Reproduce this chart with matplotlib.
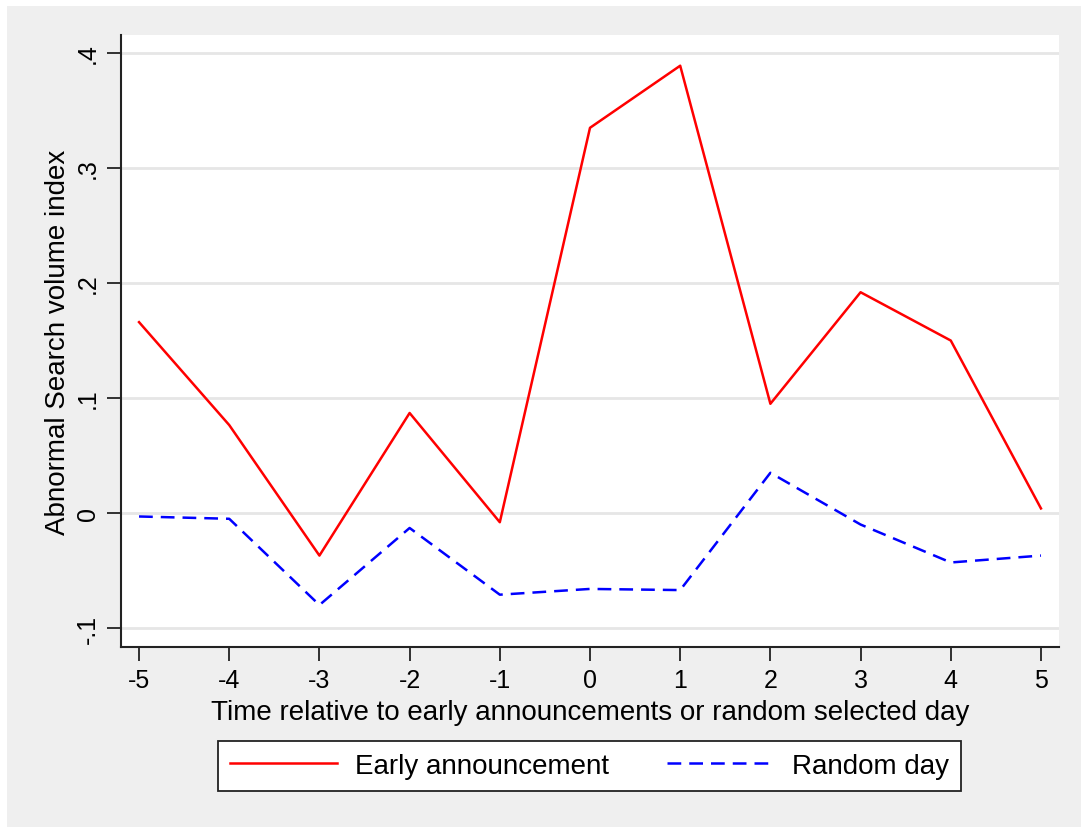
import matplotlib
matplotlib.use("Agg")
import matplotlib.pyplot as plt
from matplotlib.patches import Rectangle
from matplotlib.lines import Line2D

plt.rcParams['font.family'] = ['Liberation Sans', 'DejaVu Sans']

days = [-5, -4, -3, -2, -1, 0, 1, 2, 3, 4, 5]
early = [0.166, 0.0765, -0.037, 0.087, -0.008, 0.335, 0.389, 0.095, 0.192, 0.150, 0.004]
random_day = [-0.003, -0.005, -0.080, -0.013, -0.071, -0.066, -0.067, 0.035, -0.010, -0.043, -0.037]
yticks = [-0.1, 0, 0.1, 0.2, 0.3, 0.4]
ytick_labels = ['-.1', '0', '.1', '.2', '.3', '.4']

W, H = 1081, 828
fig = plt.figure(figsize=(W / 100, H / 100), dpi=100)
fig.patch.set_facecolor('#efefef')
fig.patches.append(Rectangle((0, 0), 7 / W, 1, transform=fig.transFigure,
                             facecolor='white', edgecolor='none', zorder=-10))
fig.patches.append(Rectangle((0, 1 - 7 / H), 1, 7 / H, transform=fig.transFigure,
                             facecolor='white', edgecolor='none', zorder=-10))

left, right, top, bottom = 121, 1059, 36, 648
ax = fig.add_axes([left / W, 1 - bottom / H, (right - left) / W, (bottom - top) / H])
ax.set_facecolor('white')

for y in yticks:
    ax.axhline(y, color='#e6e6e6', lw=2, zorder=0)

ax.plot(days, early, color='#ff0000', lw=1.8, label='Early announcement', zorder=3)
ax.plot(days, random_day, color='#0000ff', lw=1.8, ls=(0, (5.5, 3.2)), label='Random day', zorder=3)

ax.set_xlim(-5.2, 5.2)
ax.set_ylim(-0.1165, 0.4157)
ax.set_xticks(days)
ax.set_xticklabels([str(d) for d in days], fontsize=18)
ax.set_yticks(yticks)
ax.set_yticklabels(ytick_labels, fontsize=18, rotation=90, va='center')
ax.tick_params(axis='both', direction='out', length=10, width=1.3, color='#222222', pad=5)
for s in ['top', 'right']:
    ax.spines[s].set_visible(False)
for s in ['left', 'bottom']:
    ax.spines[s].set_linewidth(1.5)
    ax.spines[s].set_color('#222222')

ax.set_xlabel('Time relative to early announcements or random selected day', fontsize=20, labelpad=5)
ax.set_ylabel('Abnormal Search volume index', fontsize=20, labelpad=4)

handles = [Line2D([], [], color='#ff0000', lw=1.8),
           Line2D([], [], color='#0000ff', lw=1.8, ls=(0, (5.5, 3.2)))]
leg = fig.legend(handles, ['Early announcement', 'Random day'], loc='center',
                 bbox_to_anchor=((212 + 967) / 2 / W, 1 - 767 / H), ncol=2,
                 fontsize=20, frameon=True, fancybox=False, edgecolor='#222222',
                 framealpha=1, facecolor='white',
                 handlelength=3.85, columnspacing=2.1, handletextpad=0.65, borderpad=0.42)
leg.get_frame().set_linewidth(1.3)

fig.savefig('out.png', dpi=100, facecolor=fig.get_facecolor())
